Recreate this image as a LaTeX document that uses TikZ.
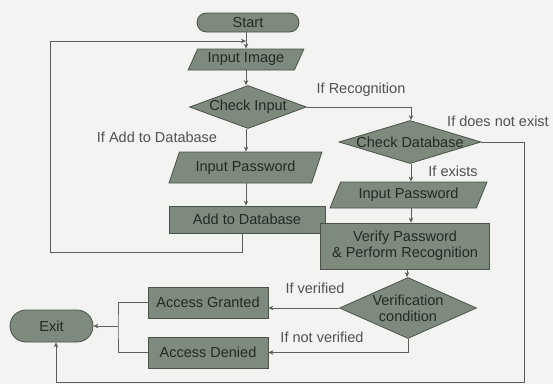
\documentclass[tikz,border=0pt]{standalone}
\usepackage{fontspec}
\setmainfont{Liberation Sans}
\usetikzlibrary{shapes.geometric,arrows.meta}
\definecolor{boxfill}{rgb}{0.49,0.54,0.49}
\definecolor{boxdraw}{rgb}{0.29,0.32,0.29}
\definecolor{linec}{rgb}{0.35,0.37,0.35}
\definecolor{lblc}{rgb}{0.31,0.32,0.31}
\definecolor{txtc}{rgb}{0.14,0.16,0.14}
\definecolor{bgc}{rgb}{0.953,0.953,0.945}
\tikzset{
  base/.style={draw=boxdraw, fill=boxfill, line width=0.8pt, text=txtc, inner sep=0pt,
    font=\fontsize{14.5}{16}\selectfont, align=center},
  term/.style={base, rectangle, rounded corners=#1},
  procbox/.style={base, rectangle},
  iobox/.style={base, trapezium, trapezium left angle=60, trapezium right angle=120, trapezium stretches=true},
  decide/.style={base, diamond},
  dlabel/.style={text=txtc, font=\fontsize{14.5}{16}\selectfont, align=center},
  conn/.style={draw=linec, line width=0.8pt},
  arr/.style={conn, -{Stealth[length=5pt,width=4.5pt]}},
  lbl/.style={text=lblc, font=\fontsize{14.5}{16}\selectfont, inner sep=0pt},
}
\begin{document}
\begin{tikzpicture}[x=1pt,y=-1pt]
\fill[bgc] (0,0) rectangle (553,384);
\useasboundingbox (0,0) rectangle (553,384);

\node[term=9.5pt, minimum width=102pt, minimum height=19pt] (start) at (248,22.5) {Start};
\node[iobox, minimum width=116pt, minimum height=21pt] (inimg) at (246,59.5) {Input Image};
\node[decide, minimum width=117pt, minimum height=43pt,
  label={[dlabel]center:Check Input}] (chkin) at (248,107) {};
\node[iobox, minimum width=153pt, minimum height=31pt] (inpw1) at (245.5,167.5) {Input Password};
\node[procbox, minimum width=156pt, minimum height=27pt] (add) at (247,219.5) {Add to Database};

\node[decide, minimum width=142pt, minimum height=43pt,
  label={[dlabel]center:Check Database}] (chkdb) at (410,142) {};
\node[iobox, minimum width=157pt, minimum height=26pt] (inpw2) at (408.5,195) {Input Password};
\node[procbox, minimum width=169pt, minimum height=46pt] (verify) at (405,246) {Verify Password\\\& Perform Recognition};
\node[decide, minimum width=137pt, minimum height=61pt,
  label={[dlabel]center:Verification\\condition}] (verif) at (408,308) {};

\node[procbox, minimum width=120pt, minimum height=31pt] (granted) at (208,302.5) {Access Granted};
\node[procbox, minimum width=120pt, minimum height=31pt] (denied) at (208,352.5) {Access Denied};
\node[term=16pt, minimum width=83pt, minimum height=32pt] (exit) at (51.5,326) {Exit};

\coordinate (fb) at (246,41);
\coordinate (jn) at (118,326);

% main column
\draw[arr] (start.south -| fb) -- (inimg.north -| fb);
\draw[arr] (inimg.south -| fb) -- (chkin.north -| fb);
\draw[arr] (chkin.south -| fb) -- (inpw1.north -| fb);
\draw[arr] (inpw1.south -| fb) -- (add.north -| fb);
\node[lbl] (lad) at (157,137) {If Add to Database};

% feedback loop
\draw[arr] (add.south -| 242,0) -- (242,252) -- (50,252) -- (50,41) -- (fb);

% recognition branch
\draw[arr] (chkin.east) -- (411,107) -- (chkdb.north -| 411,0);
\node[lbl] (lrec) at (361,90) {If Recognition};
\draw[arr] (chkdb.south -| 411,0) -- (inpw2.north -| 411,0);
\node[lbl] (lex) at (453,171) {If exists};
\draw[arr] (inpw2.south -| 411,0) -- (verify.north -| 411,0);
\draw[arr] (verify.south -| 407,0) -- (verif.north -| 407,0);

% does not exist
\draw[arr] (chkdb.east) -- (524,142) -- (524,382) -- (56,382) -- (exit.south -| 56,0);
\node[lbl] (lne) at (498,121) {If does not exist};

% verification outcomes
\draw[arr] (verif.west) -- (verif.west -| granted.east);
\node[lbl] (lv) at (315,288) {If verified};
\draw[arr] (verif.south) |- (denied.east);
\node[lbl] (lnv) at (322,337) {If not verified};

% to exit
\draw[conn] (granted.west) -| (jn) |- (denied.west);
\draw[arr] (jn) -- (exit.east);
\end{tikzpicture}
\end{document}
